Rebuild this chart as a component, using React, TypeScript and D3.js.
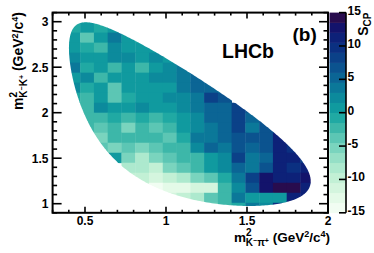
import * as d3 from "d3";
import React, { useEffect, useRef } from "react";

const _ = null;

// S_CP in each bin. Rows run from the top of the plot (m2KK ~ 3.05) down to the bottom (~ 0.95),
// columns from m2Kpi = 0.3 up to 2.0 (20 x 20 uniform bins). null = bin outside the Dalitz plot
const scpRows: (number | null)[][] = [
  [_, 0, -0.5, 0, _, _, _, _, _, _, _, _, _, _, _, _, _, _, _, _],
  [_, -0.5, 1, -0.5, 0, 0, _, _, _, _, _, _, _, _, _, _, _, _, _, _],
  [_, 0, -3.5, 0, 3, 0, -0.5, _, _, _, _, _, _, _, _, _, _, _, _, _],
  [_, 0, -0.5, -2.5, 2, 0, 0, 0.5, _, _, _, _, _, _, _, _, _, _, _, _],
  [_, 2.5, 0, 0, 2, 2, 0, 2, 0, _, _, _, _, _, _, _, _, _, _, _],
  [_, 3, -0.5, 0, -2.5, 0, -3, 0, 2, 3, _, _, _, _, _, _, _, _, _, _],
  [_, 0, 1.5, -2.5, 0, 0, 1, 2.5, 2.5, 4, 5.5, _, _, _, _, _, _, _, _, _],
  [_, 2.5, -1.5, 0, -4, 0, 0, 0, 1, 3, 5.5, 5.5, 3, _, _, _, _, _, _, _],
  [_, -1, -3, 0, -4.5, -1, 0, 0, 2.5, 1.5, 4, 8, 7, _, _, _, _, _, _, _],
  [_, -1, -3, 1.5, 0, 0, 1.5, 0, 0, 2, 3, 5.5, 5.5, 8, 6, _, _, _, _, _],
  [_, _, -2, -2, -1, -2, -1, -2, -1, 0, 2, 5.5, 5.5, 8, 5.5, 6, _, _, _, _],
  [_, _, -3, -3.5, -2, -6, -2, -3.5, -2, 1, 2, 3, 5.5, 8, 3, 6.5, 7, _, _, _],
  [_, _, _, -5, -3, -2, -3, -3, -3.5, -1, 3, 4, 5.5, 7, 6, 7, 11, 3, _, _],
  [_, _, _, -4, -5, -4.5, -6, -4.5, -3, -2, 1.5, 5.5, 4, 6.5, 5.5, 6.5, 11.5, 9.5, _, _],
  [_, _, _, _, 1, -6, -8, -6, -4.5, -3, -2, 0, 2, 8, 4, 5.5, 11.5, 11, 8, _],
  [_, _, _, _, _, -8, -8.5, -10.5, -6, -3.5, -3, 1, 2, 5.5, 4, 7, 11, 10, 11.5, _],
  [_, _, _, _, _, -10.5, -10.5, -12, -10.5, -8, -6, -3.5, -1, 4, 8, 12, 11.5, 11.5, 12, _],
  [_, _, _, _, _, _, -12, -14, -13, -13, -12, -11, -2, 2, 6, 12, 14.5, 13.5, 11, _],
  [_, _, _, _, _, _, _, _, -12, -9.5, -8, -4.5, -2, 4, 0, 0, 0.5, 11, 11, _],
  [_, _, _, _, _, _, _, _, _, _, _, -6, -3, -1, 4, 2, 10, _, _, _],
];

const kpiRange = [0.3, 2.0];
const kkRange = [0.9, 3.1];
const xTicks = [0.5, 1, 1.5, 2];
const yTicks = [1, 1.5, 2, 2.5, 3];
const zTicks = [-15, -10, -5, 0, 5, 10, 15];
const zRange = [-15, 15];
const zLevels = 20;

// palette anchors (value -> colour)
const paletteVals = [-15, -12.5, -10, -7.5, -5, -2.5, 0, 2.5, 5, 7.5, 10, 12.5, 15];
const paletteCols = ["#f7fff7", "#e2f9e6", "#c6f1d6", "#a2e5ca", "#76d2bd", "#42b9aa", "#12a2a0",
  "#0b879c", "#0b6896", "#0b4a8c", "#0b2d80", "#0f1470", "#33093f"];

// masses (GeV) for the D+ -> K- K+ pi+ phase space boundary
const mD = 1.86966, mK = 0.493677, mPi = 0.13957;

const dalitzEdge = () => {
  const sMin = (2 * mK) ** 2, sMax = (mD - mPi) ** 2;
  const lo: [number, number][] = [], hi: [number, number][] = [];
  const n = 240;
  for (let i = 0; i <= n; i++) {
    const s = sMin + (sMax - sMin) * (1 - Math.cos(Math.PI * i / n)) / 2;
    const rs = Math.sqrt(s);
    const e1 = rs / 2, p1 = Math.sqrt(Math.max(e1 * e1 - mK * mK, 0));
    const e3 = (mD * mD - s - mPi * mPi) / (2 * rs), p3 = Math.sqrt(Math.max(e3 * e3 - mPi * mPi, 0));
    const c = mK * mK + mPi * mPi + 2 * e1 * e3;
    lo.push([c - 2 * p1 * p3, s]);
    hi.push([c + 2 * p1 * p3, s]);
  }
  return lo.concat(hi.reverse());
};

const FONT = "'Liberation Sans', Arial, Helvetica, sans-serif";

export default function App() {
  const svgRef = useRef<SVGSVGElement>(null);
  const isRender = useRef(false);

  useEffect(() => {
    if (isRender.current || !svgRef.current) return;
    isRender.current = true;

    const left = 52.6, right = 328, top = 12.6, bottom = 212.8;
    const svg = d3.select(svgRef.current);

    const x = d3.scaleLinear().domain(kpiRange).range([left, right]);
    const y = d3.scaleLinear().domain(kkRange).range([bottom, top]);
    const z = d3.scaleLinear().domain(zRange).range([bottom, top]);

    const colour = d3.scaleLinear<string>().domain(paletteVals).range(paletteCols).interpolate(d3.interpolateRgb);
    const step = (zRange[1] - zRange[0]) / zLevels;
    const levelOf = (v: number) => Math.min(zLevels - 1, Math.max(0, Math.floor((v - zRange[0]) / step)));
    const levelColour = (v: number) => colour(zRange[0] + (levelOf(v) + 0.5) * step);

    // clip the bins to the kinematic boundary
    const line = d3.line<[number, number]>().x(d => x(d[0])).y(d => y(d[1]));
    svg.append("defs").append("clipPath").attr("id", "dalitz")
      .append("path").attr("d", line(dalitzEdge()) + "Z");

    const nx = scpRows[0].length, ny = scpRows.length;
    const bw = (kpiRange[1] - kpiRange[0]) / nx, bh = (kkRange[1] - kkRange[0]) / ny;
    const cells: { i: number; j: number; v: number }[] = [];
    scpRows.forEach((row, r) => row.forEach((v, i) => {
      if (v !== null) cells.push({ i, j: ny - 1 - r, v });
    }));

    svg.append("g").attr("clip-path", "url(#dalitz)")
      .selectAll("rect").data(cells).enter().append("rect")
      .attr("x", d => x(kpiRange[0] + d.i * bw))
      .attr("y", d => y(kkRange[0] + (d.j + 1) * bh))
      .attr("width", d => x(kpiRange[0] + (d.i + 1) * bw) - x(kpiRange[0] + d.i * bw) + 0.4)
      .attr("height", d => y(kkRange[0] + d.j * bh) - y(kkRange[0] + (d.j + 1) * bh) + 0.4)
      .style("fill", d => levelColour(d.v));

    // frame
    svg.append("rect").attr("x", left).attr("y", top).attr("width", right - left).attr("height", bottom - top)
      .style("fill", "none").style("stroke", "#000").style("stroke-width", 2);

    const ax = svg.append("g").style("stroke", "#000").style("stroke-width", 1.6);
    const xMinor = d3.range(3, 21).map(k => k / 10);
    xMinor.forEach(v => {
      const major = xTicks.some(t => Math.abs(t - v) < 1e-6);
      const len = major ? 6 : 3;
      ax.append("line").attr("x1", x(v)).attr("x2", x(v)).attr("y1", bottom).attr("y2", bottom - len);
      ax.append("line").attr("x1", x(v)).attr("x2", x(v)).attr("y1", top).attr("y2", top + len);
    });
    const yMinor = d3.range(9, 32).map(k => k / 10);
    yMinor.forEach(v => {
      const major = yTicks.some(t => Math.abs(t - v) < 1e-6);
      const len = major ? 9 : 4.5;
      ax.append("line").attr("y1", y(v)).attr("y2", y(v)).attr("x1", left).attr("x2", left + len);
      ax.append("line").attr("y1", y(v)).attr("y2", y(v)).attr("x1", right).attr("x2", right - len);
    });

    const labels = svg.append("g").style("font-family", FONT).style("font-weight", "bold").style("font-size", "12px");
    labels.selectAll(".xt").data(xTicks).enter().append("text")
      .attr("x", d => x(d)).attr("y", 225).attr("text-anchor", "middle").text(d => String(d));
    labels.selectAll(".yt").data(yTicks).enter().append("text")
      .attr("x", 48.5).attr("y", d => y(d) + 4.3).attr("text-anchor", "end").text(d => String(d));

    // palette
    const cbL = 329.5, cbR = 346;
    svg.append("g").selectAll("rect").data(d3.range(zLevels)).enter().append("rect")
      .attr("x", cbL).attr("width", cbR - cbL)
      .attr("y", k => z(zRange[0] + (k + 1) * step))
      .attr("height", k => z(zRange[0] + k * step) - z(zRange[0] + (k + 1) * step) + 0.3)
      .style("fill", k => colour(zRange[0] + (k + 0.5) * step));
    svg.append("line").attr("x1", cbR).attr("x2", cbR).attr("y1", top).attr("y2", bottom)
      .style("stroke", "#000").style("stroke-width", 1.6);
    svg.append("g").selectAll("line").data(zTicks).enter().append("line")
      .attr("x1", cbR).attr("x2", cbR - 7).attr("y1", d => z(d)).attr("y2", d => z(d))
      .style("stroke", "#000").style("stroke-width", 1.6);
    labels.selectAll(".zt").data(zTicks).enter().append("text")
      .attr("x", 347.5).attr("y", d => z(d) + 2).attr("text-anchor", "start").text(d => String(d));

    // titles
    const xt = svg.append("text").attr("x", 330).attr("y", 241.5).attr("text-anchor", "end")
      .style("font-family", FONT).style("font-weight", "bold").style("font-size", "13.5px");
    const yt = svg.append("text").attr("transform", "translate(22.7,12) rotate(-90)").attr("text-anchor", "end")
      .style("font-family", FONT).style("font-weight", "bold").style("font-size", "14px");
    const axisTitle = (t: any, a: string) => {
      t.append("tspan").text("m");
      t.append("tspan").attr("dy", -5.5).style("font-size", "10px").text("2");
      t.append("tspan").attr("dx", -5.6).attr("dy", 9.5).style("font-size", "10px").text("K");
      t.append("tspan").attr("dy", -3).style("font-size", "7px").text("\u2212");
      t.append("tspan").attr("dy", 3).style("font-size", "10px").text(a);
      t.append("tspan").attr("dy", -3).style("font-size", "7px").text("+");
      t.append("tspan").attr("dy", -1).text(" (GeV");
      t.append("tspan").attr("dy", -5).style("font-size", "9px").text("2");
      t.append("tspan").attr("dy", 5).text("/c");
      t.append("tspan").attr("dy", -5).style("font-size", "9px").text("4");
      t.append("tspan").attr("dy", 5).text(")");
    };
    axisTitle(xt, "\u03c0");
    axisTitle(yt, "K");

    const zt = svg.append("text").attr("transform", "translate(368,12.6) rotate(-90)").attr("text-anchor", "end")
      .style("font-family", FONT).style("font-weight", "bold").style("font-size", "14px");
    zt.append("tspan").text("S");
    zt.append("tspan").attr("dy", 3).style("font-size", "10px").text("CP");

    svg.append("text").attr("x", 222).attr("y", 58.3)
      .style("font-family", FONT).style("font-weight", "bold").style("font-size", "19.5px").text("LHCb");
    svg.append("text").attr("x", 292.5).attr("y", 41)
      .style("font-family", FONT).style("font-weight", "bold").style("font-size", "19px").text("(b)");
  }, []);

  return (
    <svg ref={svgRef} width={374} height={253}
      style={{ position: "absolute", left: 0, top: 0, background: "#fff" }} />
  );
}
